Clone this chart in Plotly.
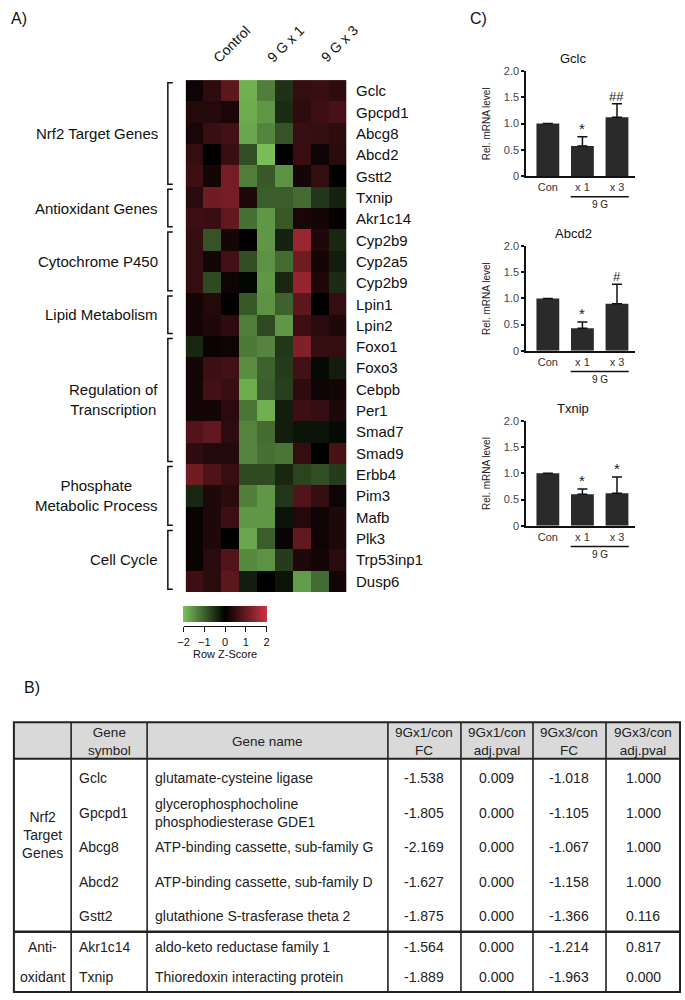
import plotly.graph_objects as go

W, H = 685, 1000
FONT = "Liberation Sans, Arial, sans-serif"

def px(x):
    return x / W

def py(y):
    return 1 - y / H

# ---------------- DATA ----------------
genes = ["Gclc", "Gpcpd1", "Abcg8", "Abcd2", "Gstt2", "Txnip", "Akr1c14", "Cyp2b9",
         "Cyp2a5", "Cyp2b9", "Lpin1", "Lpin2", "Foxo1", "Foxo3", "Cebpb", "Per1",
         "Smad7", "Smad9", "Erbb4", "Pim3", "Mafb", "Plk3", "Trp53inp1", "Dusp6"]
sample_groups = ["Control", "9 G x 1", "9 G x 3"]

zscores = [
    [0.15, 0.45, 0.90, -1.80, -1.30, -0.50, 0.50, 0.55, 0.45],
    [0.35, 0.35, 0.25, -1.75, -1.55, -0.45, 0.45, 0.60, 0.70],
    [0.25, 0.55, 0.65, -1.70, -1.35, -0.85, 0.55, 0.50, 0.45],
    [0.50, 0.00, 0.55, -0.80, -1.95, 0.00, 0.55, 0.15, 0.40],
    [0.60, 0.20, 1.15, -1.30, -0.90, -1.50, 0.20, 0.50, 0.00],
    [0.40, 1.10, 1.15, 0.30, -0.95, -0.95, -1.10, -0.55, -0.35],
    [0.60, 0.55, 0.95, -1.15, -1.55, -0.90, 0.25, 0.20, 0.05],
    [0.50, -0.85, 0.20, 0.05, -1.55, -0.35, 1.50, 0.30, -0.40],
    [0.50, 0.20, 0.65, -0.80, -1.50, -1.10, 1.10, 0.20, -0.30],
    [0.50, -0.75, 0.15, -0.05, -1.55, -0.40, 1.45, 0.30, -0.45],
    [0.20, 0.35, 0.05, -0.90, -1.50, -1.00, 0.90, 0.00, 0.50],
    [0.20, 0.30, 0.45, -1.30, -0.75, -1.55, 0.60, 0.40, 0.30],
    [-0.40, 0.10, 0.15, -1.25, -1.35, -0.55, 1.25, 0.50, 0.50],
    [0.20, 0.60, 0.65, -1.45, -1.00, -0.60, 0.65, -0.10, -0.30],
    [0.20, 0.65, 0.55, -1.75, -0.95, -0.65, 0.45, 0.15, 0.20],
    [0.20, 0.20, 0.40, -1.20, -1.80, -0.30, 0.60, 0.50, 0.30],
    [0.80, 0.95, 0.45, -1.35, -1.10, -0.30, -0.20, -0.20, -0.10],
    [0.45, 0.35, 0.35, -1.35, -1.15, -1.20, 0.50, 0.00, 0.70],
    [1.10, 0.75, 0.55, -0.75, -0.75, -0.40, -0.70, -0.80, -0.60],
    [-0.40, 0.30, 0.40, -1.30, -1.55, -0.55, 0.80, 0.50, 0.15],
    [0.10, 0.30, 0.60, -1.55, -1.55, -0.20, 0.35, 0.15, 0.30],
    [0.10, 0.30, 0.00, -1.70, -0.95, 0.10, 0.95, 0.15, 0.30],
    [0.10, 0.40, 0.80, -1.40, -1.50, -0.60, 0.30, 0.20, 0.40],
    [0.60, 0.40, 0.90, -0.30, 0.00, -0.20, -1.60, -1.10, 0.20],
]

gene_groups = ["Nrf2 Target Genes", "Antioxidant Genes", "Cytochrome P450", "Lipid Metabolism",
               "Regulation of<br>Transcription", "Phosphate<br>Metabolic Process", "Cell Cycle"]
group_first = [0, 5, 7, 10, 12, 18, 21]
group_last = [4, 6, 9, 11, 17, 20, 23]
zscore_ticks = [-2, -1, 0, 1, 2]

bar_cats = ["Con", "x 1", "x 3"]
bar_genes = ["Gclc", "Abcd2", "Txnip"]
bar_means = [[1.0, 0.57, 1.12], [1.0, 0.43, 0.90], [1.0, 0.60, 0.62]]
bar_errs = [[0.0, 0.18, 0.26], [0.0, 0.12, 0.37], [0.0, 0.10, 0.31]]
bar_marks = [["", "*", "##"], ["", "*", "#"], ["", "*", "*"]]
y_ticks = [0, 0.5, 1.0, 1.5, 2.0]
y_ticktext = ["0", "0.5", "1.0", "1.5", "2.0"]

tbl_header = ["", "Gene<br>symbol", "Gene name", "9Gx1/con<br>FC", "9Gx1/con<br>adj.pval",
              "9Gx3/con<br>FC", "9Gx3/con<br>adj.pval"]
tbl_groups = [["Nrf2<br>Target<br>Genes"], ["Anti-", "oxidant"]]
tbl_group_sizes = [5, 2]
tbl_symbols = ["Gclc", "Gpcpd1", "Abcg8", "Abcd2", "Gstt2", "Akr1c14", "Txnip"]
tbl_names = ["glutamate-cysteine ligase", "glycerophosphocholine<br>phosphodiesterase GDE1",
             "ATP-binding cassette, sub-family G", "ATP-binding cassette, sub-family D",
             "glutathione S-trasferase theta 2", "aldo-keto reductase family 1",
             "Thioredoxin interacting protein"]
tbl_fc1 = ["-1.538", "-1.805", "-2.169", "-1.627", "-1.875", "-1.564", "-1.889"]
tbl_p1 = ["0.009", "0.000", "0.000", "0.000", "0.000", "0.000", "0.000"]
tbl_fc3 = ["-1.018", "-1.105", "-1.067", "-1.158", "-1.366", "-1.214", "-1.963"]
tbl_p3 = ["1.000", "1.000", "1.000", "1.000", "0.116", "0.817", "0.000"]

# ---------------- FIGURE ----------------
fig = go.Figure()
annotations = []
shapes = []

def ann(text, x, y, size=13, xanchor="center", yanchor="middle", xref="paper", yref="paper",
        color="#111", **kw):
    d = dict(text=text, x=x, y=y, xref=xref, yref=yref, showarrow=False,
             xanchor=xanchor, yanchor=yanchor,
             font=dict(family=FONT, size=size, color=color))
    d.update(kw)
    annotations.append(d)

# Heatmap
HM_L, HM_R, HM_T, HM_B = 182, 345, 75, 593
fig.add_trace(go.Heatmap(
    z=zscores, x=list(range(9)), y=list(range(len(genes))),
    colorscale=[[0, "#7cc35a"], [0.5, "#000000"], [1, "#cc3340"]],
    zmin=-2, zmax=2, xaxis="x", yaxis="y", hoverinfo="z",
    colorbar=dict(orientation="h", x=px(222), xanchor="center", y=py(607), yanchor="top",
                  len=84, lenmode="pixels", thickness=16, outlinewidth=0,
                  xpad=0, ypad=0, showticklabels=False, ticks=""),
))
# axis under the colour key
fig.add_trace(go.Scatter(x=[], y=[], xaxis="x5", yaxis="y5", showlegend=False))

for i, g in enumerate(genes):
    ann(g, px(353), i, size=15, xanchor="left", yref="y")

for gi, sg in enumerate(sample_groups):
    ann(sg, 3 * gi + 1, py(63), size=14, xanchor="left", yanchor="bottom", xref="x",
        textangle=-45, xshift=-5)

for label, f, l in zip(gene_groups, group_first, group_last):
    ann(label, px(156), (f + l) / 2, size=15, xanchor="right", yref="y", align="center")
    x0, x1 = px(164), px(169)
    y0, y1 = f - 0.38, l + 0.38
    shapes.append(dict(type="path", xref="paper", yref="y",
                       path=f"M {x1},{y0} L {x0},{y0} L {x0},{y1} L {x1},{y1}",
                       line=dict(color="#111", width=1.5)))

# Panel labels
ann("A)", px(3), py(13), size=16, xanchor="left")
ann("B)", px(16), py(690), size=16, xanchor="left")
ann("C)", px(468), py(13), size=16, xanchor="left")

# Bar charts
BAR_L, BAR_R = 527, 637
bar_tops = [66, 243, 420]
bar_h = 106
layout_axes = {}
for k in range(3):
    xa, ya = f"x{k + 2}", f"y{k + 2}"
    top = bar_tops[k]
    bot = top + bar_h
    fig.add_trace(go.Bar(
        x=bar_cats, y=bar_means[k], xaxis=xa, yaxis=ya, width=0.66,
        marker=dict(color="#2a2a2a", line=dict(width=0)),
        error_y=dict(type="data", array=bar_errs[k], arrayminus=[0, 0, 0], symmetric=False,
                     color="#111", thickness=1.5, width=5),
        showlegend=False, hoverinfo="y"))
    layout_axes[f"xaxis{k + 2}"] = dict(
        domain=[px(BAR_L), px(BAR_R)], anchor=ya, type="category", range=[-0.63, 2.51],
        showline=True, linewidth=2, linecolor="#111", ticks="", showgrid=False,
        tickfont=dict(family=FONT, size=11, color="#333"), fixedrange=True)
    layout_axes[f"yaxis{k + 2}"] = dict(
        domain=[py(bot), py(top)], anchor=xa, range=[0, 2], tickvals=y_ticks,
        ticktext=y_ticktext, showline=True, linewidth=1.5, linecolor="#111",
        ticks="outside", ticklen=3, tickwidth=1.5, tickcolor="#111", showgrid=False,
        zeroline=False, tickfont=dict(family=FONT, size=11, color="#444"), fixedrange=True)
    ann(bar_genes[k], px(575), py(top - 13), size=13)
    ann("Rel. mRNA level", px(487), py(top + bar_h / 2), size=10, textangle=-90, color="#222")
    for j in range(3):
        if bar_marks[k][j]:
            ann(bar_marks[k][j], bar_cats[j], bar_means[k][j] + bar_errs[k][j],
                size=15 if bar_marks[k][j] == "*" else 13,
                xref=xa, yref=ya, yanchor="bottom", yshift=-2, color="#222")
    shapes.append(dict(type="line", xref=xa, yref="paper", x0=0.66, x1=2.34,
                       y0=py(bot + 21), y1=py(bot + 21), line=dict(color="#111", width=1.5)))
    ann("9 G", 1.5, py(bot + 29), size=10, xref=xa, color="#222")

layout_axes["xaxis5"] = dict(
    domain=[px(180), px(264)], anchor="free", position=py(628), range=[-2, 2],
    tickvals=zscore_ticks, showline=True, linewidth=1, linecolor="#111", ticks="outside",
    ticklen=5, tickwidth=1, tickcolor="#111", showgrid=False, zeroline=False,
    tickfont=dict(family=FONT, size=11, color="#111"), fixedrange=True,
    title=dict(text="Row Z-Score", font=dict(family=FONT, size=11, color="#111"), standoff=2))
layout_axes["yaxis5"] = dict(domain=[py(640), py(628)], anchor="x5", visible=False,
                             fixedrange=True)

# Table
tcols = [8, 66, 143, 387, 461, 534, 608, 683]
T_TOP, T_HDR, T_SEP, T_BOT = 725, 762, 937, 998
shapes.append(dict(type="rect", xref="paper", yref="paper", x0=px(tcols[0]), x1=px(tcols[-1]),
                   y0=py(T_HDR), y1=py(T_TOP), fillcolor="#d9d9d9", line=dict(width=0),
                   layer="below"))
for xc in tcols[1:-1]:
    shapes.append(dict(type="line", xref="paper", yref="paper", x0=px(xc), x1=px(xc),
                       y0=py(T_TOP), y1=py(T_BOT), line=dict(color="#222", width=1.6)))
for yy, wdt in [(T_HDR, 2), (T_SEP, 2.5)]:
    shapes.append(dict(type="line", xref="paper", yref="paper", x0=px(tcols[0]), x1=px(tcols[-1]),
                       y0=py(yy), y1=py(yy), line=dict(color="#222", width=wdt)))
shapes.append(dict(type="rect", xref="paper", yref="paper", x0=px(tcols[0]), x1=px(tcols[-1]),
                   y0=py(T_BOT), y1=py(T_TOP), line=dict(color="#222", width=2)))

for c, h in enumerate(tbl_header):
    if h:
        ann(h, px((tcols[c] + tcols[c + 1]) / 2), py((T_TOP + T_HDR) / 2 + 1), size=13.5,
            color="#222")

row_centers = []
blocks = [(T_HDR, T_SEP), (T_SEP, T_BOT)]
for (b0, b1), n, gl in zip(blocks, tbl_group_sizes, tbl_groups):
    rh = (b1 - b0) / n
    for r in range(n):
        row_centers.append(b0 + rh * (r + 0.5) + (2 if n > 2 else 0))
    if len(gl) == 1:
        ann(gl[0], px((tcols[0] + tcols[1]) / 2), py((b0 + b1) / 2 - 10), size=14,
            color="#222")
    else:
        for r, t in enumerate(gl):
            ann(t, px((tcols[0] + tcols[1]) / 2), py(b0 + rh * (r + 0.5)), size=14,
                color="#222")

for r in range(len(tbl_symbols)):
    yc = py(row_centers[r])
    ann(tbl_symbols[r], px(tcols[1] + 6), yc, size=14, xanchor="left", color="#222")
    ann(tbl_names[r], px(tcols[2] + 6), yc, size=14, xanchor="left", color="#222",
        align="left")
    for c, col in enumerate([tbl_fc1, tbl_p1, tbl_fc3, tbl_p3]):
        ann(col[r], px((tcols[3 + c] + tcols[4 + c]) / 2), yc, size=14, color="#222")

fig.update_layout(
    width=W, height=H, margin=dict(l=0, r=0, t=0, b=0),
    paper_bgcolor="white", plot_bgcolor="white", showlegend=False,
    xaxis=dict(domain=[px(HM_L), px(HM_R)], range=[-0.5, 8.5], visible=False, fixedrange=True),
    yaxis=dict(domain=[py(HM_B), py(HM_T)], range=[len(genes) - 0.5, -0.5], visible=False,
               fixedrange=True),
    annotations=annotations, shapes=shapes, **layout_axes,
)

fig.write_html("out.html", config={"displayModeBar": False},
               post_script="document.body.style.margin='0px';document.body.style.overflow='hidden';")
